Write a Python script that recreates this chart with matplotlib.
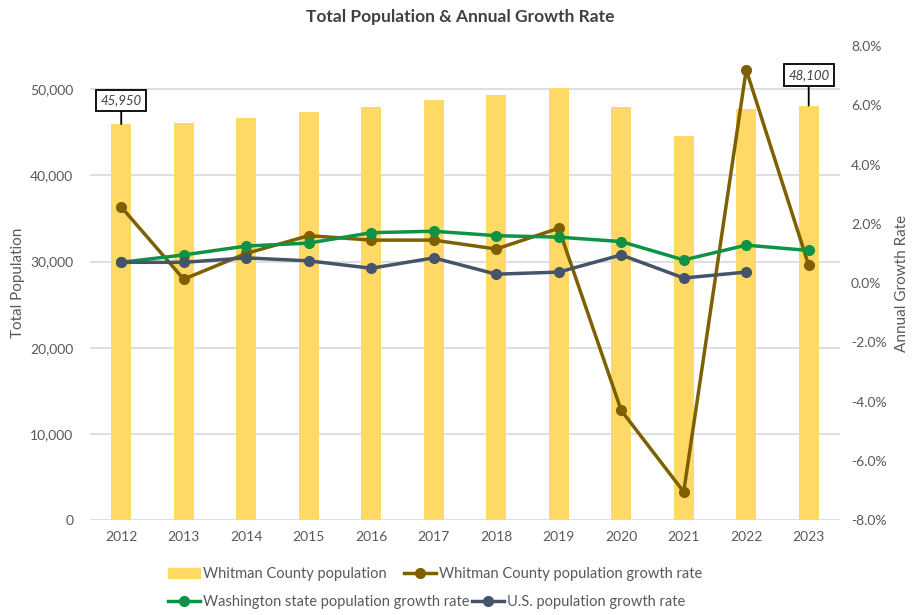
import matplotlib.pyplot as plt
import numpy as np
from matplotlib.ticker import FuncFormatter, PercentFormatter
from matplotlib.lines import Line2D
from matplotlib.patches import Patch

plt.rcParams['font.family'] = ['Lato', 'DejaVu Sans']
plt.rcParams['axes.unicode_minus'] = False

years = ['2012', '2013', '2014', '2015', '2016', '2017', '2018', '2019', '2020', '2021', '2022', '2023']
whitman_pop = [45950, 46100, 46600, 47300, 47900, 48700, 49300, 50100, 47900, 44550, 47750, 48100]
whitman_rate = [2.57, 0.13, 1.0, 1.6, 1.45, 1.45, 1.15, 1.85, -4.3, -7.05, 7.2, 0.6]
wa_rate = [0.7, 0.95, 1.25, 1.35, 1.7, 1.75, 1.6, 1.55, 1.4, 0.78, 1.28, 1.1]
us_rate = [0.7, 0.7, 0.85, 0.75, 0.5, 0.85, 0.3, 0.37, 0.95, 0.17, 0.37, None]

bar_col = '#FFD966'
brown = '#7F6000'
green = '#0E9346'
navy = '#44546A'
gray = '#595959'

x = np.arange(len(years))

fig = plt.figure(figsize=(9.21, 6.15), dpi=100)
ax = fig.add_axes([0.0977, 0.1545, 0.8143, 0.7705])
ax2 = ax.twinx()

ax.bar(x, whitman_pop, width=0.32, color=bar_col, zorder=2)
ax.set_ylim(0, 55000)
ax.set_yticks(range(0, 50001, 10000))
ax.yaxis.set_major_formatter(FuncFormatter(lambda v, p: f'{int(v):,}'))
ax.set_xlim(-0.5, len(years) - 0.5)
ax.set_xticks(x)
ax.set_xticklabels(years)
ax.grid(axis='y', color='#D9D9D9', linewidth=1.2, zorder=0)
ax.set_axisbelow(True)

us_arr = np.array([np.nan if v is None else v for v in us_rate])
ax2.plot(x, whitman_rate, color=brown, lw=2.5, marker='o', ms=7, zorder=3)
ax2.plot(x, wa_rate, color=green, lw=2.5, marker='o', ms=7, zorder=4)
ax2.plot(x, us_arr, color=navy, lw=2.5, marker='o', ms=7, zorder=5)
ax2.set_ylim(-8, 8)
ax2.set_yticks(np.arange(-8, 8.1, 2))
ax2.yaxis.set_major_formatter(PercentFormatter(decimals=1))

for a in (ax, ax2):
    for s in a.spines.values():
        s.set_visible(False)
    a.tick_params(length=0, labelsize=10, labelcolor=gray)
ax.tick_params(axis='y', pad=12)
ax.tick_params(axis='x', pad=8)
ax2.tick_params(axis='y', pad=8)

ax.set_ylabel('Total Population', fontsize=11, color=gray, labelpad=4)
ax2.set_ylabel('Annual Growth Rate', fontsize=11, color=gray, labelpad=6)

fig.suptitle('Total Population & Annual Growth Rate', fontsize=12.5, fontweight='bold',
             color='#404040', y=0.985)

# callouts on first and last bar
for i in (0, len(years) - 1):
    ax.annotate(f'{whitman_pop[i]:,}', xy=(x[i], whitman_pop[i]),
                xytext=(0, 17 if i == 0 else 22), textcoords='offset points',
                ha='center', va='center', fontsize=9.5, style='italic', color='#404040',
                bbox=dict(boxstyle='square,pad=0.35', fc='white', ec='black', lw=1.3),
                arrowprops=dict(arrowstyle='-', color='black', lw=1.3, shrinkA=0, shrinkB=0),
                zorder=6)

h1 = [Patch(color=bar_col),
      Line2D([], [], color=brown, lw=2.5, marker='o', ms=7)]
fig.legend(h1, ['Whitman County population', 'Whitman County population growth rate'],
           loc='center left', bbox_to_anchor=(0.168, 0.067), ncol=2, frameon=False,
           fontsize=10.5, labelcolor=gray, handlelength=2.2, handletextpad=0.2,
           columnspacing=1.2)
h2 = [Line2D([], [], color=green, lw=2.5, marker='o', ms=7),
      Line2D([], [], color=navy, lw=2.5, marker='o', ms=7)]
fig.legend(h2, ['Washington state population growth rate', 'U.S. population growth rate'],
           loc='center left', bbox_to_anchor=(0.168, 0.021), ncol=2, frameon=False,
           fontsize=10.5, labelcolor=gray, handlelength=2.2, handletextpad=0.2,
           columnspacing=0.2)

fig.savefig('out.png', dpi=100)
